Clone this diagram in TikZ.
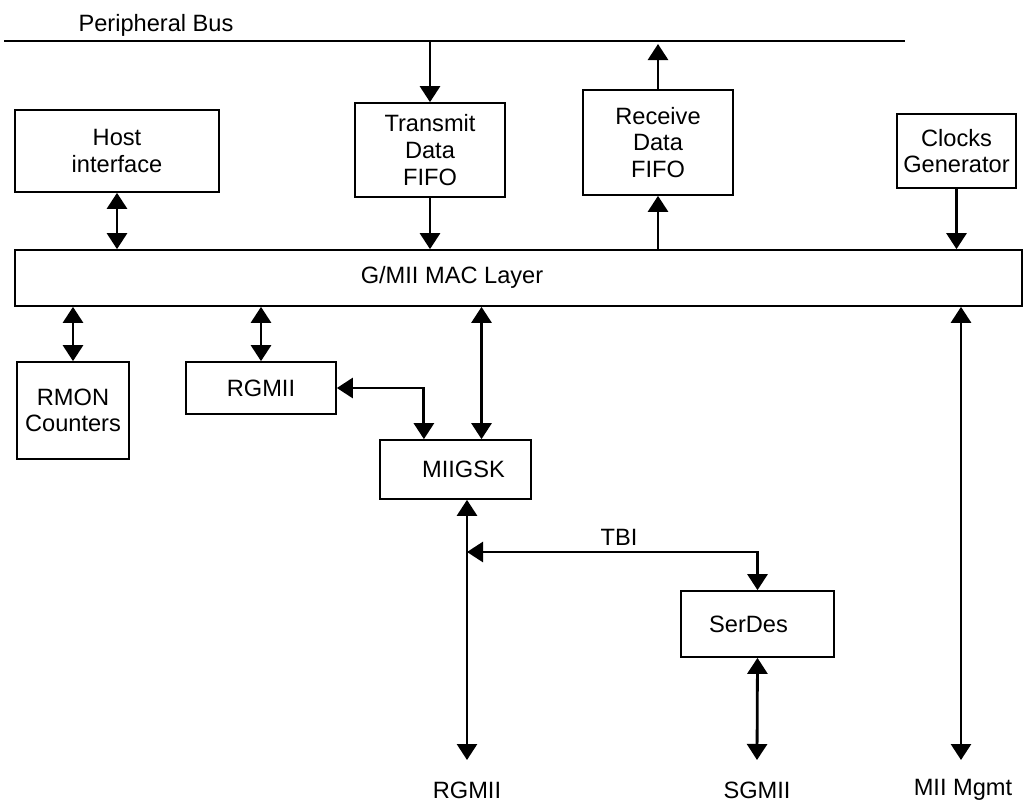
\documentclass[tikz,border=0pt]{standalone}
\usepackage{fontspec}
\setmainfont{Liberation Sans}
\usetikzlibrary{arrows.meta}

\begin{document}
\begin{tikzpicture}[x=0.025cm, y=-0.025cm,
    font=\fontsize{16.8}{19}\selectfont,
    blk/.style={draw, line width=1.2pt, align=center, inner sep=0pt},
    lbl/.style={inner sep=0pt, align=center},
    uni/.style={line width=2pt, -{Triangle[width=0.5cm,length=0.4cm]}},
    dbl/.style={line width=2pt, {Triangle[width=0.5cm,length=0.4cm]}-{Triangle[width=0.5cm,length=0.4cm]}}]

  \useasboundingbox (0,0) rectangle (1027,802);

  % Peripheral bus
  \coordinate (busL) at (4,41);
  \coordinate (busR) at (905,41);
  \draw[line width=1.2pt] (busL) -- (busR);
  \node[lbl] (buslbl) at (156,25) {Peripheral Bus};

  % Upper blocks
  \node[blk, minimum width=5.1cm,   minimum height=2.05cm]  (host) at (117,151)   {Host\\interface};
  \node[blk, minimum width=3.75cm,  minimum height=2.35cm]  (tx)   at (430,150)   {Transmit\\Data\\FIFO};
  \node[blk, minimum width=3.75cm,  minimum height=2.625cm] (rx)   at (658,142.5) {Receive\\Data\\FIFO};
  \node[blk, minimum width=2.975cm, minimum height=1.85cm]  (clk)  at (956.5,151) {Clocks\\Generator};

  % MAC layer
  \node[blk, minimum width=25.175cm, minimum height=1.4cm] (mac) at (518.5,278) {};
  \node[lbl] (maclbl) at (452,277) {G/MII MAC Layer};

  % Lower blocks
  \node[blk, minimum width=2.8cm,   minimum height=2.425cm] (rmon)   at (73,410.5)  {RMON\\Counters};
  \node[blk, minimum width=3.75cm,  minimum height=1.3cm]   (rgmii)  at (261,388)   {RGMII};
  \node[blk, minimum width=3.775cm, minimum height=1.475cm] (miigsk) at (455.5,469.5) {\hspace{0.4cm}MIIGSK};
  \node[blk, minimum width=3.825cm, minimum height=1.65cm]  (serdes) at (757.5,624) {SerDes\hspace{0.45cm}};

  % Outside interfaces
  \node[lbl] (rgmiiout) at (467,790) {RGMII};
  \node[lbl] (sgmiiout) at (757,790) {SGMII};
  \node[lbl] (mgmtout)  at (963,790) {MII Mgmt};
  \coordinate (rgmiiend) at (467,760);
  \coordinate (sgmiiend) at (757,760);
  \coordinate (mgmtend)  at (961,760);
  \coordinate (busRx)    at (658,44);
  \coordinate (tbiL)     at (467,552);

  % Bus and FIFO connections
  \draw[uni] (tx.north |- busL) -- (tx.north);
  \draw[uni] (rx.north) -- (busRx);
  \draw[dbl] (host.south) -- (host.south |- mac.north);
  \draw[uni] (tx.south) -- (tx.south |- mac.north);
  \draw[uni] (rx.south |- mac.north) -- (rx.south);
  \draw[uni] (clk.south) -- (clk.south |- mac.north);

  % MAC to lower blocks
  \draw[dbl] (rmon.north |- mac.south) -- (rmon.north);
  \draw[dbl] (rgmii.north |- mac.south) -- (rgmii.north);
  \draw[dbl] ([xshift=0.65cm]miigsk.north |- mac.south) -- ([xshift=0.65cm]miigsk.north);
  \draw[dbl] (rgmii.east) -| ([xshift=-0.79cm]miigsk.north);
  \draw[dbl] (mgmtend |- mac.south) -- (mgmtend);

  % PHY side
  \draw[dbl] (rgmiiend |- miigsk.south) -- (rgmiiend);
  \draw[dbl] (tbiL) -| (serdes.north);
  \node[lbl] (tbilbl) at (619,537) {TBI};
  \draw[dbl] (serdes.south) -- (sgmiiend);

\end{tikzpicture}
\end{document}
